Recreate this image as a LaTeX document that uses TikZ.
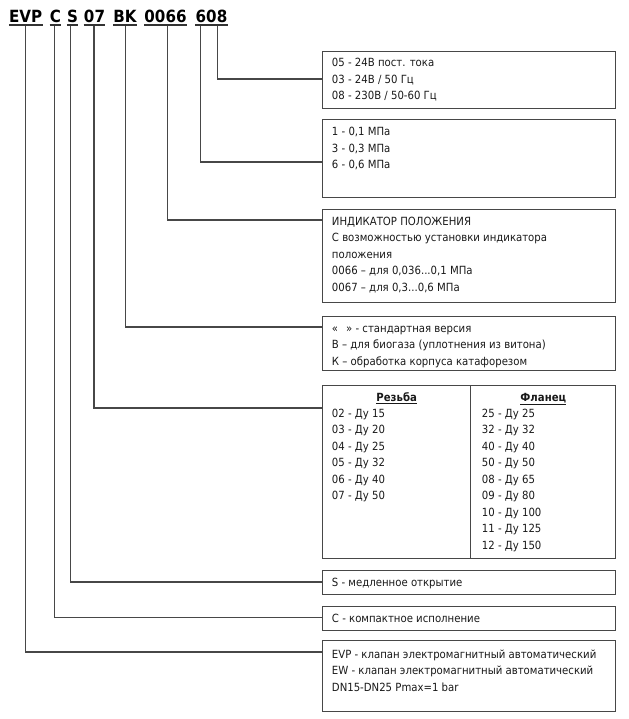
\documentclass[tikz,border=0pt]{standalone}
\usepackage{fontspec}
\setmainfont{DejaVu Sans Condensed}
\begin{document}
\begin{tikzpicture}[x=0.75pt,y=-0.75pt,
  ln/.style={draw=black!72,line width=0.8pt},
  bx/.style={draw=black!72,line width=0.8pt,rectangle,inner sep=0pt,anchor=north west,minimum width=293.3*0.75pt},
  tx/.style={anchor=base west,inner sep=0pt,font=\fontsize{8.45}{10}\selectfont,text=black!90},
  hd/.style={anchor=base,inner sep=0pt,font=\fontsize{12.6}{15}\selectfont\bfseries},
  ul/.style={draw=black!80,line width=1.1pt}]
\useasboundingbox (0,0) rectangle (629,719);
% header tokens
\node[hd] (tEVP) at (25.7,22.7) {EVP};
\node[hd] (tC) at (55.5,22.7) {C};
\node[hd] (tS) at (72.5,22.7) {S};
\node[hd] (t07) at (94.5,22.7) {07};
\node[hd] (tBK) at (125,22.7) {BK};
\node[hd] (t0066) at (165.5,22.7) {0066};
\node[hd] (t608) at (211.5,22.7) {608};
\foreach \t in {tEVP,tC,tS,t07,tBK,t0066,t608}{
  \draw[ul] ([yshift=-1.8pt]\t.base west) -- ([yshift=-1.8pt]\t.base east);
}
% start coordinates of connectors
\coordinate (sEVP) at (25.7,26);
\coordinate (sC) at (54.3,26);
\coordinate (sS) at (70.7,26);
\coordinate (s07) at (94,26);
\coordinate (sBK) at (125.7,26);
\coordinate (s0066) at (167.7,26);
\coordinate (s6) at (200.7,26);
\coordinate (s8) at (217.7,26);
% boxes
\node[bx,minimum height=57.6*0.75pt] (b1) at (321.7,50.7) {};
\node[bx,minimum height=77.4*0.75pt] (b2) at (321.7,119.3) {};
\node[bx,minimum height=92.4*0.75pt] (b3) at (321.7,209.3) {};
\node[bx,minimum height=54*0.75pt] (b4) at (321.7,316) {};
\node[bx,minimum height=172.5*0.75pt] (b5) at (321.7,385) {};
\node[bx,minimum height=24*0.75pt] (b6) at (321.7,570) {};
\node[bx,minimum height=24*0.75pt] (b7) at (321.7,606) {};
\node[bx,minimum height=70.7*0.75pt] (b8) at (321.7,640) {};
\coordinate (dvt) at (470.7,385);
\coordinate (dvb) at (470.7,557.5);
\draw[ln] (dvt) -- (dvb);
% connectors
\draw[ln] (s8) |- (b1.west |- 0,79);
\draw[ln] (s6) |- (b2.west |- 0,162);
\draw[ln] (s0066) |- (b3.west |- 0,220);
\draw[ln] (sBK) |- (b4.west |- 0,327);
\draw[ln] (s07) |- (b5.west |- 0,408);
\draw[ln] (sS) |- (b6.west |- 0,582);
\draw[ln] (sC) |- (b7.west |- 0,617.5);
\draw[ln] (sEVP) |- (b8.west |- 0,652);
% texts (baseline = visual centre + 4)
\node[tx] (x11) at (331.7,66.5) {05 - 24В пост. тока};
\node[tx] (x12) at (331.7,83) {03 - 24В / 50 Гц};
\node[tx] (x13) at (331.7,99.5) {08 - 230В / 50-60 Гц};
\node[tx] (x21) at (331.7,135.5) {1 - 0,1 МПа};
\node[tx] (x22) at (331.7,152) {3 - 0,3 МПа};
\node[tx] (x23) at (331.7,168.5) {6 - 0,6 МПа};
\node[tx] (x31) at (331.7,225) {ИНДИКАТОР ПОЛОЖЕНИЯ};
\node[tx] (x32) at (331.7,241.5) {С возможностью установки индикатора};
\node[tx] (x33) at (331.7,258) {положения};
\node[tx] (x34) at (331.7,274.5) {0066 – для 0,036...0,1 МПа};
\node[tx] (x35) at (331.7,291) {0067 – для 0,3...0,6 МПа};
\node[tx] (x41) at (331.7,332) {«\hspace{6pt}» - стандартная версия};
\node[tx] (x42) at (331.7,348.5) {В – для биогаза (уплотнения из витона)};
\node[tx] (x43) at (331.7,365) {К – обработка корпуса катафорезом};
\node[tx,anchor=base] (h1) at (396.7,401) {\underline{\textbf{Резьба}}};
\node[tx,anchor=base] (h2) at (543.3,401) {\underline{\textbf{Фланец}}};
\foreach \a/\b [count=\i from 0] in {02/15,03/20,04/25,05/32,06/40,07/50}{
  \node[tx] (l\i) at (331.7,417+16.5*\i) {\a\ - Ду \b};
}
\foreach \a/\b [count=\i from 0] in {25/25,32/32,40/40,50/50,08/65,09/80,10/100,11/125,12/150}{
  \node[tx] (r\i) at (481.7,417+16.5*\i) {\a\ - Ду \b};
}
\node[tx] (x61) at (331.7,586.5) {S - медленное открытие};
\node[tx] (x71) at (331.7,622) {С - компактное исполнение};
\node[tx] (x81) at (331.7,658) {EVP - клапан электромагнитный автоматический};
\node[tx] (x82) at (331.7,674.5) {EW - клапан электромагнитный автоматический};
\node[tx] (x83) at (331.7,691) {DN15-DN25 Pmax=1 bar};
\end{tikzpicture}
\end{document}
